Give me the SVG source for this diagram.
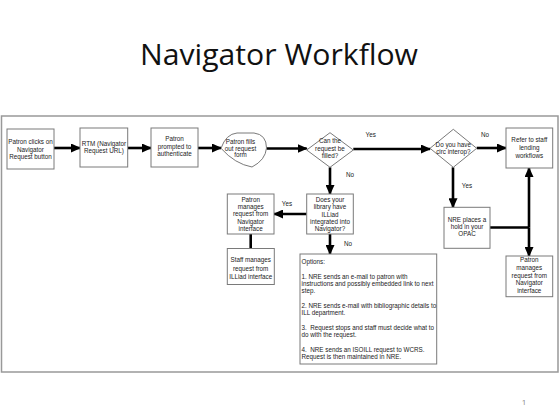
<svg xmlns="http://www.w3.org/2000/svg" width="560" height="420" viewBox="0 0 560 420">
<defs>
<style>
.box{fill:#fff;stroke:#7a7a7a;stroke-width:1}
.t{font-family:"Liberation Sans",Arial,sans-serif;font-size:6.3px;fill:#222;text-anchor:middle}
.tl{font-family:"Liberation Sans",Arial,sans-serif;font-size:6.3px;fill:#222}
.c{fill:none;stroke:#000;stroke-width:2.6}
.ca{fill:none;stroke:#000;stroke-width:2.6;marker-end:url(#ah)}
.lbl{font-family:"Liberation Sans",Arial,sans-serif;font-size:6.3px;fill:#222;text-anchor:middle}
</style>
<marker id="ah" markerUnits="userSpaceOnUse" markerWidth="10" markerHeight="9" refX="9" refY="4.5" orient="auto">
<path d="M0,0 L10,4.5 L0,9 Z" fill="#000"/>
</marker>
</defs>
<rect width="560" height="420" fill="#fff"/>
<text x="279" y="65" font-family="'Open Sans','Noto Sans',sans-serif" font-size="30" fill="#111" text-anchor="middle" textLength="278" lengthAdjust="spacingAndGlyphs">Navigator Workflow</text>
<rect x="1.5" y="116" width="556.5" height="256" fill="none" stroke="#999" stroke-width="1.5"/>
<text x="524" y="405" font-family="'Open Sans','Noto Sans',sans-serif" font-size="8" fill="#888" text-anchor="middle">1</text>

<g id="connectors">
<path class="ca" d="M54,148 H80"/>
<path class="ca" d="M127.7,148 H151"/>
<path class="ca" d="M198,148 H221"/>
<path class="ca" d="M266.5,148.5 H306.7"/>
<path class="ca" d="M353.3,149 H430"/>
<path class="ca" d="M476.7,148 H506"/>
<path class="ca" d="M330,167.3 V194"/>
<path class="ca" d="M306.7,214 H274"/>
<path class="c" d="M250.7,234 V248.5"/>
<path class="ca" d="M330,234 V254"/>
<path class="ca" d="M453,167.3 V207.3"/>
<path class="c" d="M490,227.5 H529"/>
<path class="ca" d="M529,227.5 V168"/>
<path class="ca" d="M529,227.5 V256"/>
<text class="lbl" x="370.7" y="137">Yes</text>
<text class="lbl" x="485" y="137">No</text>
<text class="lbl" x="350" y="177">No</text>
<text class="lbl" x="467" y="188">Yes</text>
<text class="lbl" x="287" y="206">Yes</text>
<text class="lbl" x="348" y="246">No</text>
</g>

<g id="patron-clicks">
<rect class="box" x="7" y="129" width="47" height="40"/>
<text class="t" x="30.5" y="144.3">Patron clicks on</text>
<text class="t" x="30.5" y="151.6">Navigator</text>
<text class="t" x="30.5" y="159">Request button</text>
</g>

<g id="rtm">
<rect class="box" x="80" y="128" width="47.7" height="39"/>
<text class="t" x="104" y="145.6">RTM (Navigator</text>
<text class="t" x="104" y="153.3">Request URL)</text>
</g>

<g id="authenticate">
<rect class="box" x="151" y="128" width="47" height="39"/>
<text class="t" x="174.5" y="141.3">Patron</text>
<text class="t" x="174.5" y="149">prompted to</text>
<text class="t" x="174.5" y="156.3">authenticate</text>
</g>

<g id="fill-form">
<path class="box" d="M221,148.3 Q226,134 237,133 L254,133 Q266.5,134.5 266.5,148 Q265.5,160 252,167 Q235,164 221,148.3 Z"/>
<text class="t" x="240.5" y="144">Patron fills</text>
<text class="t" x="240.5" y="150.6">out request</text>
<text class="t" x="240.5" y="157.3">form</text>
</g>

<g id="can-fill">
<path class="box" d="M306.7,150 L330,132.7 L353.3,150 L330,167.3 Z"/>
<text class="t" x="330" y="143.3">Can the</text>
<text class="t" x="330" y="150.6">request be</text>
<text class="t" x="330" y="158.3">filled?</text>
</g>

<g id="circ-interop">
<path class="box" d="M430,148.3 L453.3,129.3 L476.7,148.3 L453.3,167.3 Z"/>
<text class="t" x="453.3" y="146.6">Do you have</text>
<text class="t" x="453.3" y="154">circ interop?</text>
</g>

<g id="refer-staff">
<rect class="box" x="506" y="128" width="46.7" height="40"/>
<text class="t" x="529.3" y="141.6">Refer to staff</text>
<text class="t" x="529.3" y="150">lending</text>
<text class="t" x="529.3" y="158.3">workflows</text>
</g>

<g id="illiad-integrated">
<rect class="box" x="306.7" y="194" width="46.6" height="40"/>
<text class="t" x="330" y="201.6">Does your</text>
<text class="t" x="330" y="209">library have</text>
<text class="t" x="330" y="216.6">ILLiad</text>
<text class="t" x="330" y="224.3">integrated into</text>
<text class="t" x="330" y="231.3">Navigator?</text>
</g>

<g id="patron-manages-left">
<rect class="box" x="227.3" y="194" width="46.7" height="40"/>
<text class="t" x="250.7" y="201.6">Patron</text>
<text class="t" x="250.7" y="209">manages</text>
<text class="t" x="250.7" y="216.3">request from</text>
<text class="t" x="250.7" y="224">Navigator</text>
<text class="t" x="250.7" y="231.3">interface</text>
</g>

<g id="staff-manages">
<rect class="box" x="227.3" y="248.5" width="47" height="36"/>
<text class="t" x="250.7" y="262.3">Staff manages</text>
<text class="t" x="250.7" y="270.6">request from</text>
<text class="t" x="250.7" y="279">ILLiad interface</text>
</g>

<g id="nre-hold">
<rect class="box" x="444" y="207.3" width="46" height="41"/>
<text class="t" x="467" y="221.6">NRE places a</text>
<text class="t" x="467" y="229">hold in your</text>
<text class="t" x="467" y="236.3">OPAC</text>
</g>

<g id="patron-manages-right">
<rect class="box" x="506" y="256" width="46.7" height="40.7"/>
<text class="t" x="529.3" y="262.3">Patron</text>
<text class="t" x="529.3" y="270">manages</text>
<text class="t" x="529.3" y="277.6">request from</text>
<text class="t" x="529.3" y="285.2">Navigator</text>
<text class="t" x="529.3" y="292.8">interface</text>
</g>

<g id="options">
<rect class="box" x="300" y="254" width="136.7" height="110"/>
<text class="tl" x="301.5" y="264">Options:</text>
<text class="tl" x="301.5" y="279">1. NRE sends an e-mail to patron with</text>
<text class="tl" x="301.5" y="286">instructions and possibly embedded link to next</text>
<text class="tl" x="301.5" y="293">step.</text>
<text class="tl" x="301.5" y="308">2. NRE sends e-mail with bibliographic details to</text>
<text class="tl" x="301.5" y="315">ILL department.</text>
<text class="tl" x="301.5" y="330" xml:space="preserve">3.  Request stops and staff must decide what to</text>
<text class="tl" x="301.5" y="337">do with the request.</text>
<text class="tl" x="301.5" y="352" xml:space="preserve">4.  NRE sends an ISOILL request to WCRS.</text>
<text class="tl" x="301.5" y="359">Request is then maintained in NRE.</text>
</g>
</svg>
